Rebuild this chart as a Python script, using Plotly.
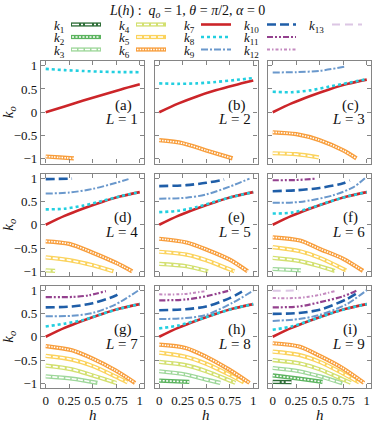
import plotly.graph_objects as go

# ---------------- data ----------------
TITLE = "<i>L</i>(<i>h</i>) :  <i>q<sub>o</sub></i> = 1, <i>θ</i> = <i>π</i>/2, <i>α</i> = 0"
PANEL_TAGS = ["(a)", "(b)", "(c)", "(d)", "(e)", "(f)", "(g)", "(h)", "(i)"]
L_VALUES = [1, 2, 3, 4, 5, 6, 7, 8, 9]
X_TICKS = [0, 0.25, 0.5, 0.75, 1]
X_TICK_TEXT = ["0", "0.25", "0.5", "0.75", "1"]
Y_TICKS = [-1, -0.5, 0, 0.5, 1]
Y_TICK_TEXT = ["−1", "−0.5", "0", "0.5", "1"]

H_GRID = [0, 0.2, 0.4, 0.6, 0.8, 1.0]

L1 = {
    6: ([0, 0.15, 0.3], [-0.95, -0.97, -0.99]),
    7: (H_GRID, [0, 0.125, 0.25, 0.37, 0.49, 0.60]),
    8: (H_GRID, [0.93, 0.905, 0.885, 0.87, 0.862, 0.86]),
}
L2 = {
    6: ([0, 0.25, 0.5, 0.78], [-0.6, -0.665, -0.82, -0.99]),
    7: (H_GRID, [0, 0.185, 0.34, 0.47, 0.58, 0.68]),
    8: (H_GRID, [0.62, 0.61, 0.62, 0.65, 0.69, 0.735]),
}
L3 = {
    5: ([0, 0.25, 0.49], [-0.88, -0.9, -0.97]),
    6: ([0, 0.25, 0.5, 0.75, 0.89], [-0.43, -0.47, -0.6, -0.82, -0.99]),
    7: (H_GRID, [0, 0.19, 0.35, 0.49, 0.61, 0.70]),
    8: (H_GRID, [0.44, 0.43, 0.47, 0.55, 0.63, 0.71]),
    9: ([0, 0.25, 0.5, 0.76], [0.855, 0.86, 0.89, 0.975]),
}
L4 = {
    4: ([0, 0.1], [-0.98, -0.99]),
    5: ([0, 0.25, 0.5, 0.72], [-0.7, -0.76, -0.87, -1.0]),
    6: ([0, 0.25, 0.5, 0.75, 0.92], [-0.355, -0.41, -0.6, -0.82, -1.0]),
    7: (H_GRID, [0, 0.19, 0.35, 0.49, 0.61, 0.70]),
    8: (H_GRID, [0.33, 0.345, 0.41, 0.51, 0.615, 0.70]),
    9: ([0, 0.25, 0.5, 0.75, 0.88], [0.67, 0.69, 0.77, 0.9, 0.98]),
    10: ([0, 0.28], [0.98, 0.99]),
}
L5 = {
    4: ([0, 0.29, 0.52], [-0.84, -0.89, -1.0]),
    5: ([0, 0.29, 0.5, 0.8], [-0.58, -0.64, -0.76, -1.0]),
    6: ([0, 0.29, 0.5, 0.75, 0.94], [-0.3, -0.38, -0.53, -0.75, -1.0]),
    7: (H_GRID, [0, 0.19, 0.35, 0.49, 0.61, 0.70]),
    8: (H_GRID, [0.27, 0.30, 0.38, 0.50, 0.61, 0.70]),
    9: ([0, 0.29, 0.5, 0.75, 0.96], [0.56, 0.58, 0.65, 0.82, 0.99]),
    10: ([0, 0.29, 0.5, 0.69], [0.83, 0.85, 0.9, 0.97]),
}
L6 = {
    3: ([0, 0.3], [-0.95, -0.98]),
    4: ([0, 0.29, 0.5, 0.66], [-0.71, -0.78, -0.89, -0.99]),
    5: ([0, 0.29, 0.5, 0.78], [-0.48, -0.57, -0.71, -0.98]),
    6: ([0, 0.29, 0.5, 0.75, 0.96], [-0.27, -0.34, -0.52, -0.73, -0.99]),
    7: (H_GRID, [0, 0.19, 0.35, 0.49, 0.61, 0.70]),
    8: (H_GRID, [0.24, 0.26, 0.36, 0.495, 0.61, 0.70]),
    9: ([0, 0.29, 0.64, 0.86, 0.98], [0.47, 0.49, 0.63, 0.81, 1.0]),
    10: ([0, 0.25, 0.5, 0.75, 0.82], [0.72, 0.74, 0.79, 0.89, 0.95]),
    11: ([0, 0.25, 0.46], [0.955, 0.96, 0.99]),
}
L7 = {
    3: ([0, 0.28, 0.55], [-0.85, -0.9, -0.99]),
    4: ([0, 0.28, 0.5, 0.75], [-0.62, -0.7, -0.83, -0.99]),
    5: ([0, 0.28, 0.5, 0.74, 0.87], [-0.41, -0.49, -0.63, -0.85, -0.98]),
    6: ([0, 0.28, 0.5, 0.74, 0.95], [-0.2, -0.29, -0.47, -0.72, -0.99]),
    7: (H_GRID, [0, 0.19, 0.35, 0.49, 0.61, 0.70]),
    8: (H_GRID, [0.22, 0.28, 0.36, 0.49, 0.61, 0.70]),
    9: ([0, 0.28, 0.5, 0.74, 0.99], [0.44, 0.45, 0.51, 0.69, 1.0]),
    10: ([0, 0.28, 0.5, 0.74, 0.8], [0.63, 0.65, 0.72, 0.88, 0.96]),
    11: ([0, 0.29, 0.46, 0.64], [0.85, 0.855, 0.89, 0.98]),
}
L8 = {
    2: ([0, 0.32], [-0.94, -0.97]),
    3: ([0, 0.28, 0.5, 0.65], [-0.74, -0.81, -0.92, -0.99]),
    4: ([0, 0.28, 0.5, 0.81], [-0.54, -0.61, -0.74, -0.99]),
    5: ([0, 0.28, 0.5, 0.74, 0.9], [-0.34, -0.43, -0.58, -0.81, -0.98]),
    6: ([0, 0.28, 0.5, 0.74, 0.96], [-0.17, -0.24, -0.43, -0.7, -0.99]),
    7: (H_GRID, [0, 0.19, 0.35, 0.49, 0.61, 0.70]),
    8: (H_GRID, [0.18, 0.24, 0.355, 0.49, 0.61, 0.70]),
    9: ([0, 0.28, 0.5, 0.78, 1.0], [0.38, 0.4, 0.47, 0.73, 0.99]),
    10: ([0, 0.28, 0.5, 0.75, 0.88], [0.57, 0.59, 0.65, 0.83, 0.97]),
    11: ([0, 0.28, 0.5, 0.76], [0.78, 0.8, 0.87, 1.0]),
    12: ([0, 0.25, 0.5], [0.91, 0.915, 0.98]),
}
L9 = {
    1: ([0, 0.2], [-0.97, -0.975]),
    2: ([0, 0.28, 0.53], [-0.83, -0.9, -0.97]),
    3: ([0, 0.28, 0.5, 0.74], [-0.67, -0.74, -0.85, -1.0]),
    4: ([0, 0.28, 0.5, 0.74, 0.83], [-0.5, -0.57, -0.7, -0.91, -0.99]),
    5: ([0, 0.28, 0.5, 0.74, 0.92], [-0.32, -0.39, -0.54, -0.78, -0.98]),
    6: ([0, 0.28, 0.5, 0.74, 0.97], [-0.14, -0.21, -0.41, -0.67, -0.99]),
    7: (H_GRID, [0, 0.19, 0.35, 0.49, 0.61, 0.70]),
    8: (H_GRID, [0.15, 0.22, 0.35, 0.49, 0.61, 0.70]),
    9: ([0, 0.28, 0.5, 0.78, 1.0], [0.34, 0.38, 0.47, 0.69, 1.0]),
    10: ([0, 0.28, 0.5, 0.78, 0.9], [0.49, 0.51, 0.58, 0.8, 0.94]),
    11: ([0, 0.28, 0.5, 0.75, 0.89], [0.63, 0.65, 0.74, 0.87, 0.99]),
    12: ([0, 0.28, 0.5, 0.66], [0.83, 0.835, 0.9, 0.98]),
    13: ([0, 0.28], [0.985, 0.995]),
}
PANELS = [L1, L2, L3, L4, L5, L6, L7, L8, L9]

# ---------------- styles ----------------
COLORS = {
    1: "#2f6e38", 2: "#5cb45f", 3: "#9ed79a", 4: "#d3e070", 5: "#fbd35d",
    6: "#f89e3c", 7: "#cc2529", 8: "#22cfe0", 9: "#6a98cc", 10: "#1f5ea8",
    11: "#94418e", 12: "#c48ac0", 13: "#dcc6e4",
}
MAIN = {
    1: (4.2, "solid"), 2: (4.2, "solid"), 3: (4.2, "solid"), 4: (4.2, "solid"),
    5: (4.2, "solid"), 6: (4.2, "solid"), 7: (2.6, "solid"), 8: (2.6, "dot"),
    9: (2.0, "7px,2px,2px,2px"), 10: (2.6, "9px,4px"),
    11: (2.2, "6px,2px,2px,2px,2px,2px"), 12: (2.0, "3px,2px,1.5px,2px"),
    13: (2.0, "8px,5px"),
}
INNER = {
    1: "7px,2px,2px,2px", 2: "2px,1.5px", 3: "5px,1.5px", 4: "5px,2px",
    5: "5px,2px", 6: "1.5px,1.2px",
}

W, H = 374, 427
COLS_PX = [(41, 144), (154.5, 257.5), (268, 371)]
ROWS_PX = [(61, 163.5), (173.5, 276), (285.5, 388)]
FONT = "Liberation Serif"
FRAME = "#858585"


def px_x(p):
    return p / W


def px_y(p):
    return 1 - p / H


fig = go.Figure()
layout = {}
annotations = []
shapes = []

for i, data in enumerate(PANELS):
    r, c = divmod(i, 3)
    n = i + 1
    xa = "x" if n == 1 else f"x{n}"
    ya = "y" if n == 1 else f"y{n}"
    xkey = "xaxis" if n == 1 else f"xaxis{n}"
    ykey = "yaxis" if n == 1 else f"yaxis{n}"
    x0, x1 = COLS_PX[c]
    y0, y1 = ROWS_PX[r]
    layout[xkey] = dict(
        domain=[px_x(x0), px_x(x1)], anchor=ya, range=[-0.05, 1.045],
        tickvals=X_TICKS, ticktext=X_TICK_TEXT, showticklabels=(r == 2),
        ticks="inside", ticklen=4, tickcolor=FRAME, showline=True, linecolor=FRAME,
        linewidth=1.2, mirror="ticks", showgrid=False, zeroline=False,
        automargin=False, tickfont=dict(family=FONT, size=13, color="#111"),
    )
    layout[ykey] = dict(
        domain=[px_y(y1), px_y(y0)], anchor=xa, range=[-1.1, 1.1],
        tickvals=Y_TICKS, ticktext=Y_TICK_TEXT, showticklabels=(c == 0),
        ticks="inside", ticklen=4, tickcolor=FRAME, showline=True, linecolor=FRAME,
        linewidth=1.2, mirror="ticks", showgrid=False, zeroline=False,
        automargin=False, tickfont=dict(family=FONT, size=13, color="#111"),
    )
    for k in sorted(data.keys()):
        hx, ky = data[k]
        w, d = MAIN[k]
        fig.add_trace(go.Scatter(
            x=hx, y=ky, mode="lines", xaxis=xa, yaxis=ya, showlegend=False,
            line=dict(color=COLORS[k], width=w, dash=d, shape="spline", smoothing=0.8),
            hoverinfo="skip",
        ))
        if k in INNER:
            fig.add_trace(go.Scatter(
                x=hx, y=ky, mode="lines", xaxis=xa, yaxis=ya, showlegend=False,
                line=dict(color="white", width=1.6, dash=INNER[k], shape="spline",
                          smoothing=0.8),
                hoverinfo="skip",
            ))
    annotations.append(dict(
        text=PANEL_TAGS[i], xref=f"{xa} domain", yref=f"{ya} domain",
        x=0.8, y=0.57, xanchor="center", yanchor="middle", showarrow=False,
        font=dict(family=FONT, size=15, color="#111"),
    ))
    annotations.append(dict(
        text=f"<i>L</i> = {L_VALUES[i]}", xref=f"{xa} domain", yref=f"{ya} domain",
        x=0.96, y=0.43, xanchor="right", yanchor="middle", showarrow=False,
        font=dict(family=FONT, size=15, color="#111"),
    ))

for r, (y0, y1) in enumerate(ROWS_PX):
    annotations.append(dict(
        text="<i>k<sub>o</sub></i>", xref="paper", yref="paper",
        x=px_x(9), y=px_y((y0 + y1) / 2), textangle=-90, showarrow=False,
        xanchor="center", yanchor="middle",
        font=dict(family=FONT, size=15, color="#111"),
    ))
for c, (x0, x1) in enumerate(COLS_PX):
    annotations.append(dict(
        text="<i>h</i>", xref="paper", yref="paper",
        x=px_x((x0 + x1) / 2), y=px_y(415), showarrow=False,
        xanchor="center", yanchor="middle",
        font=dict(family=FONT, size=15, color="#111"),
    ))

annotations.append(dict(
    text=TITLE, xref="paper", yref="paper", x=px_x(187), y=px_y(11),
    showarrow=False, xanchor="center", yanchor="middle",
    font=dict(family=FONT, size=14, color="#111"),
))

LEG_TEXT_X = [52, 117, 182, 242, 307]
LEG_SAMPLE_X = [(71, 101), (136, 166), (201, 231), (267, 296), (332, 362)]
LEG_ROW_Y = [24.5, 37, 49.5]
for k in range(1, 14):
    col, row = divmod(k - 1, 3)
    yy = px_y(LEG_ROW_Y[row])
    annotations.append(dict(
        text=f"<i>k</i><sub>{k}</sub>", xref="paper", yref="paper",
        x=px_x(LEG_TEXT_X[col]), y=px_y(LEG_ROW_Y[row] + 2), showarrow=False,
        xanchor="left", yanchor="middle",
        font=dict(family=FONT, size=13, color="#111"),
    ))
    sx0, sx1 = LEG_SAMPLE_X[col]
    w, d = MAIN[k]
    shapes.append(dict(
        type="line", xref="paper", yref="paper", x0=px_x(sx0), x1=px_x(sx1),
        y0=yy, y1=yy, line=dict(color=COLORS[k], width=w, dash=d),
    ))
    if k in INNER:
        shapes.append(dict(
            type="line", xref="paper", yref="paper", x0=px_x(sx0 + 1), x1=px_x(sx1 - 1),
            y0=yy, y1=yy, line=dict(color="white", width=1.6, dash=INNER[k]),
        ))

fig.update_layout(
    width=W, height=H, margin=dict(l=0, r=0, t=0, b=0),
    paper_bgcolor="white", plot_bgcolor="white", showlegend=False,
    annotations=annotations, shapes=shapes, **layout,
)
fig.write_html(
    "out.html",
    config={"displayModeBar": False},
    post_script="document.body.style.margin='0';document.body.style.padding='0';",
)
